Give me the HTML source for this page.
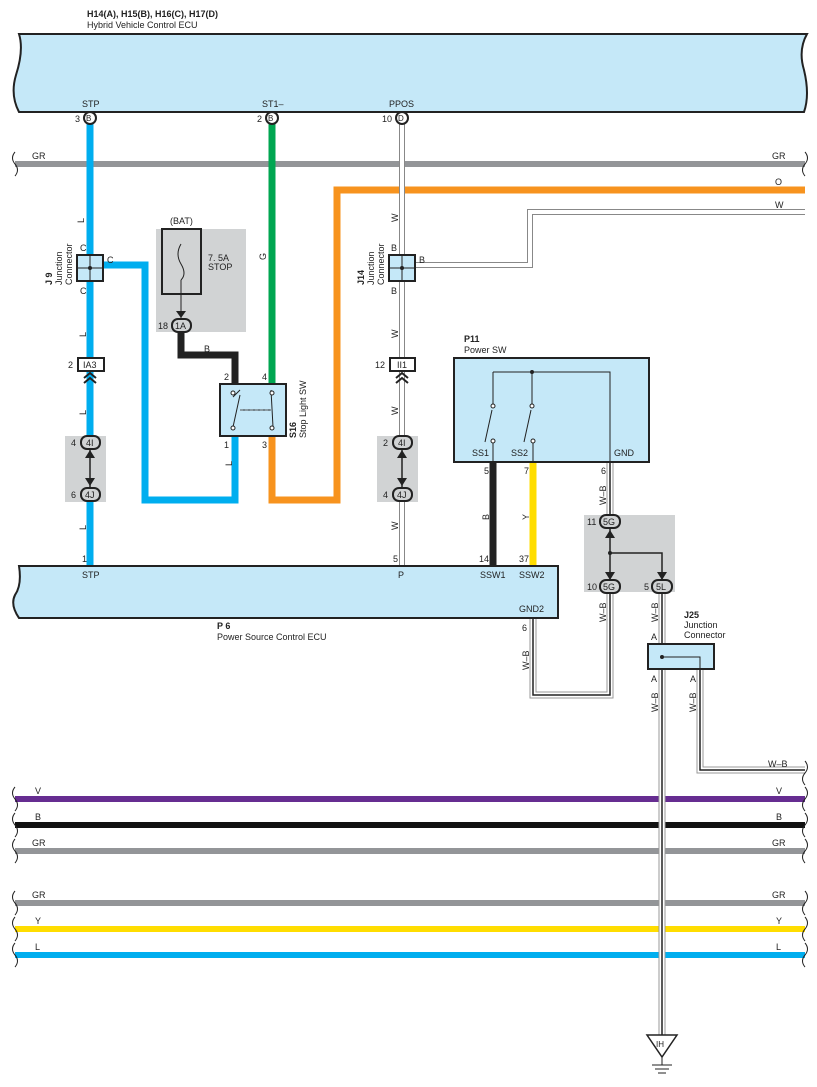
<!DOCTYPE html>
<html><head><meta charset="utf-8"><style>
body{margin:0;background:#fff}
svg{display:block}
text{font-family:"Liberation Sans",sans-serif;font-size:9px;fill:#222}
.b{font-weight:bold}
</style></head><body>
<svg width="817" height="1087" viewBox="0 0 817 1087">
<!-- top ECU -->
<path d="M19,34 H807 Q798,50 804,70 Q810,95 804,112 H19 Q10,95 16,75 Q24,50 19,34 Z" fill="#c5e8f8" stroke="#222" stroke-width="2"/>
<text x="87" y="17" class="b">H14(A), H15(B), H16(C), H17(D)</text>
<text x="87" y="28">Hybrid Vehicle Control ECU</text>
<text x="82" y="107">STP</text><text x="262" y="107">ST1–</text><text x="389" y="107">PPOS</text>

<!-- GR top -->
<line x1="15" y1="164" x2="805" y2="164" stroke="#939598" stroke-width="6"/>
<path d="M15,152 q-5,6 0,12 q5,6 0,12" fill="none" stroke="#222"/>
<path d="M805,152 q5,6 0,12 q-5,6 0,12" fill="none" stroke="#222"/>
<text x="32" y="159">GR</text><text x="772" y="159">GR</text>

<!-- orange -->
<path d="M272,437 V500 H337 V190 H805" fill="none" stroke="#f7931e" stroke-width="7"/>
<text x="775" y="185">O</text>
<!-- W double -->
<path d="M402,118 V566 M402,265 H530 V212 H805" fill="none" stroke="#888" stroke-width="6"/>
<path d="M402,118 V566 M402,265 H530 V212 H805" fill="none" stroke="#fff" stroke-width="4"/>
<text x="775" y="208">W</text>
<!-- green -->
<line x1="272" y1="118" x2="272" y2="384" stroke="#00a651" stroke-width="7"/>
<!-- blue -->
<line x1="90" y1="118" x2="90" y2="566" stroke="#00aeef" stroke-width="7"/>
<path d="M90,265 H145 V500 H235 V437" fill="none" stroke="#00aeef" stroke-width="7"/>
<!-- black fuse wire -->
<path d="M181,332 V355 H235 V385" fill="none" stroke="#222" stroke-width="7"/>
<!-- P11 wires -->
<line x1="493" y1="462" x2="493" y2="566" stroke="#222" stroke-width="7"/>
<line x1="533" y1="462" x2="533" y2="566" stroke="#ffdd00" stroke-width="7"/>
<!-- W-B wires -->
<g fill="none">
<path d="M610,462 V515 M610,592 V695 H533 V618 M662,592 V1035 M700,669 V770 H805" stroke="#999" stroke-width="7"/>
<path d="M610,462 V515 M610,592 V695 H533 V618 M662,592 V1035 M700,669 V770 H805" stroke="#fff" stroke-width="5"/>
<path d="M610,462 V515 M610,592 V695 H533 V618 M662,592 V1035 M700,669 V770 H805" stroke="#222" stroke-width="1.5"/>
</g>
<text x="768" y="767">W–B</text>

<!-- pins top -->
<g stroke="#222" stroke-width="2" fill="#fff">
<circle cx="90" cy="118" r="6"/><circle cx="272" cy="118" r="6"/><circle cx="402" cy="118" r="6"/>
</g>
<text x="86" y="121" style="font-size:8px">B</text><text x="268" y="121" style="font-size:8px">B</text><text x="398" y="121" style="font-size:8px">D</text>
<text x="75" y="122">3</text><text x="257" y="122">2</text><text x="382" y="122">10</text>

<!-- J9 -->
<rect x="77" y="255" width="26" height="26" fill="#c5e8f8" stroke="#222" stroke-width="2"/>
<path d="M90,255 V281 M77,268 H103" stroke="#222"/><circle cx="90" cy="268" r="2" fill="#222"/>
<text x="80" y="251">C</text><text x="107" y="263">C</text><text x="80" y="294">C</text>
<text x="80" y="219" transform="rotate(-90 84 219)">L</text>
<text x="80" y="335" transform="rotate(-90 84 333)">L</text>
<text transform="translate(52,285) rotate(-90)" class="b">J 9</text>
<text transform="translate(62,285) rotate(-90)">Junction</text>
<text transform="translate(72,285) rotate(-90)">Connector</text>

<!-- fuse -->
<rect x="156" y="229" width="90" height="103" fill="#d1d3d4"/>
<rect x="162" y="229" width="39" height="65" fill="#d1d3d4" stroke="#222" stroke-width="2"/>
<path d="M181,244 q-6,10 0,20 q6,10 0,16" fill="none" stroke="#222"/>
<text x="170" y="224">(BAT)</text><text x="208" y="261">7. 5A</text><text x="208" y="270">STOP</text>
<line x1="181" y1="280" x2="181" y2="318" stroke="#222"/>
<path d="M176,311 L181,318 L186,311 Z" fill="#222"/>
<rect x="172" y="319" width="19" height="13" rx="6" fill="#d1d3d4" stroke="#222" stroke-width="2"/>
<text x="175" y="329">1A</text><text x="158" y="329">18</text>
<text x="204" y="352">B</text>

<!-- switch -->
<rect x="220" y="384" width="66" height="52" fill="#c5e8f8" stroke="#222" stroke-width="2"/>
<path d="M233,397 L240,390 M233,427 L240,395 M271,390 L273,427 M240,410 H271" stroke="#222" fill="none"/>
<path d="M240,410 H271" stroke="#555" stroke-dasharray="3,2"/>
<g fill="#fff" stroke="#222"><circle cx="233" cy="393" r="2"/><circle cx="233" cy="428" r="2"/><circle cx="272" cy="393" r="2"/><circle cx="272" cy="428" r="2"/></g>
<text x="224" y="380">2</text><text x="262" y="380">4</text><text x="224" y="448">1</text><text x="262" y="448">3</text>
<text x="226" y="466" transform="rotate(-90 229 463)">L</text>
<text transform="translate(296,438) rotate(-90)" class="b">S16</text>
<text transform="translate(306,438) rotate(-90)">Stop Light SW</text>
<text transform="translate(266,260) rotate(-90)">G</text>

<!-- IA3 -->
<rect x="78" y="358" width="26" height="13" fill="#fff" stroke="#222" stroke-width="2"/>
<text x="83" y="368">IA3</text><text x="68" y="368">2</text>
<path d="M84,378 L90,373 L96,378 M84,383 L90,378 L96,383" fill="none" stroke="#222" stroke-width="2"/>
<text transform="translate(86,415) rotate(-90)">L</text>
<text transform="translate(86,530) rotate(-90)">L</text>
<!-- 4I/4J left -->
<rect x="65" y="436" width="41" height="66" fill="#d1d3d4"/>
<line x1="90" y1="448" x2="90" y2="488" stroke="#222" stroke-width="1.5"/>
<path d="M85,458 L90,450 L95,458 Z M85,478 L90,486 L95,478 Z" fill="#222"/>
<rect x="81" y="436" width="19" height="13" rx="6" fill="#d1d3d4" stroke="#222" stroke-width="2"/>
<rect x="81" y="488" width="19" height="13" rx="6" fill="#d1d3d4" stroke="#222" stroke-width="2"/>
<text x="86" y="446">4I</text><text x="85" y="498">4J</text><text x="71" y="446">4</text><text x="71" y="498">6</text>
<text x="82" y="562">1</text>

<!-- J14 -->
<rect x="389" y="255" width="26" height="26" fill="#c5e8f8" stroke="#222" stroke-width="2"/>
<path d="M402,255 V281 M389,268 H415" stroke="#222"/><circle cx="402" cy="268" r="2" fill="#222"/>
<text x="391" y="251">B</text><text x="419" y="263">B</text><text x="391" y="294">B</text>
<text transform="translate(398,222) rotate(-90)">W</text>
<text transform="translate(398,338) rotate(-90)">W</text>
<text transform="translate(364,285) rotate(-90)" class="b">J14</text>
<text transform="translate(374,285) rotate(-90)">Junction</text>
<text transform="translate(384,285) rotate(-90)">Connector</text>
<rect x="390" y="358" width="25" height="13" fill="#fff" stroke="#222" stroke-width="2"/>
<text x="397" y="368">II1</text><text x="375" y="368">12</text>
<path d="M396,378 L402,373 L408,378 M396,383 L402,378 L408,383" fill="none" stroke="#222" stroke-width="2"/>
<text transform="translate(398,415) rotate(-90)">W</text>
<rect x="377" y="436" width="41" height="66" fill="#d1d3d4"/>
<line x1="402" y1="448" x2="402" y2="488" stroke="#222" stroke-width="1.5"/>
<path d="M397,458 L402,450 L407,458 Z M397,478 L402,486 L407,478 Z" fill="#222"/>
<rect x="393" y="436" width="19" height="13" rx="6" fill="#d1d3d4" stroke="#222" stroke-width="2"/>
<rect x="393" y="488" width="19" height="13" rx="6" fill="#d1d3d4" stroke="#222" stroke-width="2"/>
<text x="398" y="446">4I</text><text x="397" y="498">4J</text><text x="383" y="446">2</text><text x="383" y="498">4</text>
<text transform="translate(398,530) rotate(-90)">W</text>
<text x="393" y="562">5</text>

<!-- P11 -->
<text x="464" y="342" class="b">P11</text><text x="464" y="353">Power SW</text>
<rect x="454" y="358" width="195" height="104" fill="#c5e8f8" stroke="#222" stroke-width="2"/>
<path d="M493,440 V441 M493,372 H610 V462 M493,372 V405 M532,372 V405 M493,441 V462 M533,441 V462 M485,442 L492,410 M524,442 L531,410" fill="none" stroke="#222"/>
<circle cx="532" cy="372" r="2" fill="#222"/>
<g fill="#fff" stroke="#222"><circle cx="493" cy="406" r="2"/><circle cx="532" cy="406" r="2"/><circle cx="493" cy="441" r="2"/><circle cx="533" cy="441" r="2"/></g>
<text x="472" y="456">SS1</text><text x="511" y="456">SS2</text><text x="614" y="456">GND</text>
<text x="484" y="474">5</text><text x="524" y="474">7</text><text x="601" y="474">6</text>
<text transform="translate(489,520) rotate(-90)">B</text>
<text transform="translate(529,520) rotate(-90)">Y</text>
<text transform="translate(606,505) rotate(-90)">W–B</text>
<text x="479" y="562">14</text><text x="519" y="562">37</text>

<!-- junction box 5G -->
<rect x="584" y="515" width="91" height="77" fill="#d1d3d4"/>
<path d="M610,527 V580 M610,553 H662 V580" fill="none" stroke="#222" stroke-width="1.5"/>
<circle cx="610" cy="553" r="2" fill="#222"/>
<path d="M605,538 L610,530 L615,538 Z M605,572 L610,580 L615,572 Z M657,572 L662,580 L667,572 Z" fill="#222"/>
<rect x="600" y="515" width="20" height="13" rx="6" fill="#d1d3d4" stroke="#222" stroke-width="2"/>
<rect x="600" y="580" width="20" height="13" rx="6" fill="#d1d3d4" stroke="#222" stroke-width="2"/>
<rect x="652" y="580" width="20" height="13" rx="6" fill="#d1d3d4" stroke="#222" stroke-width="2"/>
<text x="603" y="525">5G</text><text x="603" y="590">5G</text><text x="656" y="590">5L</text>
<text x="587" y="525">11</text><text x="587" y="590">10</text><text x="644" y="590">5</text>

<!-- bottom ECU -->
<path d="M19,566 H558 V618 H19 Q10,605 15,595 Q22,585 19,566 Z" fill="#c5e8f8" stroke="#222" stroke-width="2"/>
<text x="82" y="578">STP</text><text x="398" y="578">P</text><text x="480" y="578">SSW1</text><text x="519" y="578">SSW2</text><text x="519" y="612">GND2</text>
<text x="217" y="629" class="b">P 6</text><text x="217" y="640">Power Source Control ECU</text>
<text x="522" y="631">6</text>
<text transform="translate(529,670) rotate(-90)">W–B</text>
<text transform="translate(606,622) rotate(-90)">W–B</text>
<text transform="translate(658,622) rotate(-90)">W–B</text>

<!-- J25 -->
<text x="684" y="618" class="b">J25</text><text x="684" y="628">Junction</text><text x="684" y="638">Connector</text>
<rect x="648" y="644" width="66" height="25" fill="#c5e8f8" stroke="#222" stroke-width="2"/>
<path d="M662,657 H700 V669" fill="none" stroke="#222"/><circle cx="662" cy="657" r="2" fill="#222"/>
<text x="651" y="640">A</text><text x="651" y="682">A</text><text x="690" y="682">A</text>
<text transform="translate(658,712) rotate(-90)">W–B</text>
<text transform="translate(696,712) rotate(-90)">W–B</text>

<!-- bottom wires -->
<g stroke-width="6">
<line x1="15" y1="799" x2="805" y2="799" stroke="#662d91"/>
<line x1="15" y1="825" x2="805" y2="825" stroke="#111"/>
<line x1="15" y1="851" x2="805" y2="851" stroke="#939598"/>
<line x1="15" y1="903" x2="805" y2="903" stroke="#939598"/>
<line x1="15" y1="929" x2="805" y2="929" stroke="#ffdd00"/>
<line x1="15" y1="955" x2="805" y2="955" stroke="#00aeef"/>
</g>
<g fill="none" stroke="#222">
<path d="M15,787 q-5,6 0,12 q5,6 0,12 M15,813 q-5,6 0,12 q5,6 0,12 M15,839 q-5,6 0,12 q5,6 0,12 M15,891 q-5,6 0,12 q5,6 0,12 M15,917 q-5,6 0,12 q5,6 0,12 M15,943 q-5,6 0,12 q5,6 0,12"/>
<path d="M805,761 q5,6 0,12 q-5,6 0,12 M805,787 q5,6 0,12 q-5,6 0,12 M805,813 q5,6 0,12 q-5,6 0,12 M805,839 q5,6 0,12 q-5,6 0,12 M805,891 q5,6 0,12 q-5,6 0,12 M805,917 q5,6 0,12 q-5,6 0,12 M805,943 q5,6 0,12 q-5,6 0,12"/>
</g>
<text x="35" y="794">V</text><text x="776" y="794">V</text>
<text x="35" y="820">B</text><text x="776" y="820">B</text>
<text x="32" y="846">GR</text><text x="772" y="846">GR</text>
<text x="32" y="898">GR</text><text x="772" y="898">GR</text>
<text x="35" y="924">Y</text><text x="776" y="924">Y</text>
<text x="35" y="950">L</text><text x="776" y="950">L</text>
<!-- re-draw vertical over bottom wires -->
<g fill="none">
<line x1="662" y1="780" x2="662" y2="1035" stroke="#999" stroke-width="7"/>
<line x1="662" y1="780" x2="662" y2="1035" stroke="#fff" stroke-width="5"/>
<line x1="662" y1="780" x2="662" y2="1035" stroke="#222" stroke-width="1.5"/>
</g>
<!-- ground -->
<path d="M647,1035 H677 L662,1057 Z" fill="#fff" stroke="#222" stroke-width="1.5"/>
<text x="656" y="1047" style="font-size:8px">IH</text>
<path d="M662,1057 V1065 M652,1065 H672 M655,1069 H669 M658,1073 H666" stroke="#222" fill="none"/>
</svg>
</body></html>
